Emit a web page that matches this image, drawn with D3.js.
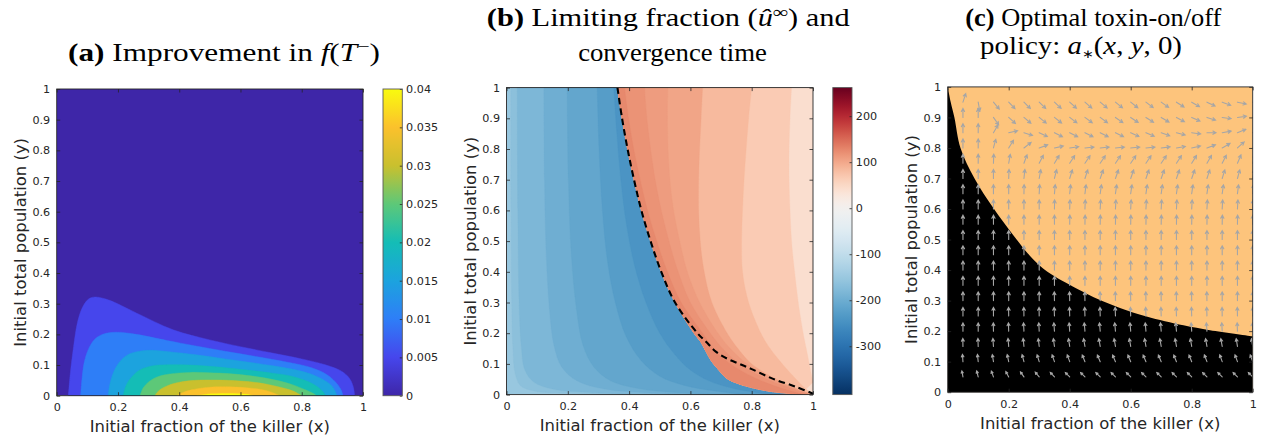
<!DOCTYPE html>
<html>
<head>
<meta charset="utf-8">
<script src="https://cdnjs.cloudflare.com/ajax/libs/d3/7.8.5/d3.min.js"></script>
<style>
  html, body { margin: 0; padding: 0; background: #ffffff; }
  svg { display: block; }
</style>
</head>
<body>
<svg id="fig" width="1267" height="437" xmlns="http://www.w3.org/2000/svg"></svg>
<script>
// ---------- shared axis data ----------
const xTickValues = [0, 0.2, 0.4, 0.6, 0.8, 1];
const xTickLabels = ["0", "0.2", "0.4", "0.6", "0.8", "1"];
const yTickValues = [0, 0.1, 0.2, 0.3, 0.4, 0.5, 0.6, 0.7, 0.8, 0.9, 1];
const yTickLabels = ["0", "0.1", "0.2", "0.3", "0.4", "0.5", "0.6", "0.7", "0.8", "0.9", "1"];
const xAxisTitle = "Initial fraction of the killer (x)";
const yAxisTitle = "Initial total population (y)";

// ---------- (a) improvement in f(T-) : filled contour outlines [x, y] ----------
const improvementLevels = [0.005, 0.01, 0.015, 0.02, 0.025, 0.03, 0.035, 0.04];
const improvementContours = [
  [[0.038,0],[0.045,0.08],[0.055,0.16],[0.068,0.24],[0.085,0.29],[0.105,0.316],[0.125,0.322],[0.17,0.312],[0.26,0.27],[0.38,0.215],[0.5,0.182],[0.6,0.16],[0.7,0.14],[0.8,0.12],[0.88,0.1],[0.93,0.08],[0.955,0.058],[0.968,0.03],[0.973,0]],
  [[0.078,0],[0.083,0.06],[0.09,0.11],[0.105,0.155],[0.125,0.185],[0.155,0.202],[0.2,0.207],[0.26,0.2],[0.36,0.18],[0.45,0.163],[0.55,0.145],[0.65,0.128],[0.75,0.11],[0.83,0.092],[0.88,0.07],[0.91,0.045],[0.928,0.02],[0.935,0]],
  [[0.168,0],[0.174,0.04],[0.187,0.08],[0.207,0.112],[0.235,0.135],[0.27,0.145],[0.31,0.148],[0.38,0.142],[0.45,0.134],[0.55,0.12],[0.65,0.106],[0.75,0.09],[0.82,0.074],[0.865,0.055],[0.9,0.03],[0.915,0]],
  [[0.217,0],[0.225,0.03],[0.24,0.055],[0.27,0.083],[0.31,0.097],[0.36,0.101],[0.435,0.1],[0.52,0.094],[0.6,0.086],[0.7,0.074],[0.76,0.065],[0.81,0.05],[0.85,0.03],[0.872,0.01],[0.878,0]],
  [[0.272,0],[0.282,0.025],[0.3,0.045],[0.33,0.062],[0.37,0.071],[0.435,0.076],[0.5,0.075],[0.56,0.072],[0.64,0.064],[0.71,0.052],[0.77,0.036],[0.81,0.02],[0.84,0.006],[0.848,0]],
  [[0.32,0],[0.335,0.018],[0.36,0.032],[0.4,0.044],[0.45,0.05],[0.52,0.051],[0.6,0.048],[0.66,0.042],[0.72,0.03],[0.77,0.016],[0.8,0]],
  [[0.391,0],[0.41,0.01],[0.44,0.019],[0.49,0.027],[0.55,0.029],[0.62,0.026],[0.68,0.018],[0.71,0.008],[0.728,0]],
  [[0.457,0],[0.49,0.005],[0.55,0.007],[0.6,0.006],[0.63,0.003],[0.64,0]]
];
const improvementBarTicks = [0, 0.005, 0.01, 0.015, 0.02, 0.025, 0.03, 0.035, 0.04];
const improvementBarLabels = ["0", "0.005", "0.01", "0.015", "0.02", "0.025", "0.03", "0.035", "0.04"];
// parula-like colour stops, one per colorbar tick
const parulaStops = ["#3E26A8", "#4646EC", "#2E7EF7", "#1CA3DE", "#14BDB6", "#5DC878", "#C9C02E", "#FBC12C", "#F9FB0E"];

// ---------- (b) limiting fraction and convergence time ----------
const limitRange = [-405, 262];
const limitBarTicks = [-300, -200, -100, 0, 100, 200];
const limitBarLabels = ["-300", "-200", "-100", "0", "100", "200"];
// dashed switching curve
const switchCurve = [[0.362,1],[0.377,0.9],[0.395,0.8],[0.416,0.7],[0.44,0.6],[0.47,0.5],[0.505,0.4],[0.55,0.3],[0.623,0.2],[0.651,0.172],[0.683,0.14],[0.72,0.117],[0.76,0.1],[0.8,0.083],[0.868,0.052],[0.945,0.025],[1.0,0.003]];
// border between negative (blue) and positive (red) values
const signBoundary = [[0.362,1],[0.377,0.9],[0.395,0.8],[0.416,0.7],[0.44,0.6],[0.47,0.5],[0.505,0.4],[0.55,0.3],[0.612,0.2],[0.635,0.17],[0.651,0.14],[0.668,0.11],[0.689,0.084],[0.72,0.052],[0.75,0.038],[0.78,0.028],[0.82,0.018],[0.87,0.009],[0.93,0.003],[0.96,0]];
// negative side: band values (outermost first) and the edges between them
const negativeLevels = [-152, -166, -182, -198, -212, -228, -242];
const negativeEdges = [
  [[0.014,1],[0.015,0.6],[0.017,0.3],[0.021,0.15],[0.028,0.07],[0.045,0.03],[0.09,0.012],[0.2,0.004],[0.3,0]],
  [[0.035,1],[0.037,0.6],[0.041,0.3],[0.048,0.16],[0.06,0.08],[0.09,0.04],[0.15,0.018],[0.28,0.006],[0.42,0]],
  [[0.122,1],[0.124,0.7],[0.13,0.45],[0.14,0.28],[0.155,0.16],[0.18,0.09],[0.23,0.045],[0.32,0.018],[0.45,0.006],[0.56,0]],
  [[0.198,1],[0.202,0.7],[0.212,0.45],[0.228,0.28],[0.25,0.16],[0.285,0.09],[0.34,0.045],[0.43,0.02],[0.55,0.007],[0.67,0]],
  [[0.296,1],[0.302,0.8],[0.313,0.6],[0.33,0.43],[0.355,0.3],[0.39,0.19],[0.44,0.11],[0.5,0.06],[0.58,0.03],[0.68,0.012],[0.78,0]],
  [[0.35,1],[0.36,0.85],[0.373,0.7],[0.392,0.55],[0.418,0.42],[0.455,0.3],[0.5,0.2],[0.55,0.13],[0.6,0.08],[0.66,0.045],[0.74,0.02],[0.86,0]]
];
// positive side: band values (next to the border first) and edges
const positiveLevels = [126, 118, 110, 103, 84, 66, 42];
const positiveEdges = [
  [[0.385,1],[0.398,0.9],[0.415,0.8],[0.436,0.7],[0.46,0.6],[0.49,0.5],[0.525,0.4],[0.57,0.3],[0.64,0.2],[0.675,0.15],[0.73,0.1],[0.82,0.05],[0.9,0.02],[0.975,0]],
  [[0.45,1],[0.458,0.9],[0.47,0.8],[0.485,0.7],[0.505,0.6],[0.53,0.5],[0.56,0.4],[0.6,0.3],[0.665,0.2],[0.705,0.15],[0.76,0.1],[0.85,0.05],[0.93,0.02],[0.99,0]],
  [[0.526,1],[0.525,0.9],[0.527,0.8],[0.533,0.7],[0.545,0.6],[0.565,0.5],[0.59,0.4],[0.63,0.3],[0.69,0.2],[0.73,0.15],[0.785,0.1],[0.87,0.05],[0.94,0.02],[1,0]],
  [[0.64,1],[0.635,0.9],[0.63,0.8],[0.627,0.7],[0.627,0.6],[0.632,0.5],[0.645,0.4],[0.67,0.3],[0.72,0.2],[0.755,0.15],[0.8,0.1],[0.88,0.05],[0.945,0.02],[1,0]],
  [[0.8,1],[0.79,0.9],[0.782,0.8],[0.775,0.7],[0.77,0.6],[0.767,0.5],[0.77,0.4],[0.79,0.3],[0.83,0.2],[0.86,0.15],[0.9,0.1],[0.945,0.05],[0.975,0.02],[1,0]],
  [[0.93,1],[0.925,0.9],[0.922,0.8],[0.922,0.7],[0.925,0.6],[0.93,0.5],[0.94,0.4],[0.952,0.3],[0.968,0.2],[0.978,0.15],[0.988,0.1],[1,0.04]]
];

// ---------- (c) optimal toxin on/off policy ----------
// switching boundary: toxin off to the lower left of it
const policyBoundary = [[0,1],[0.01,0.95],[0.022,0.9],[0.042,0.8],[0.088,0.7],[0.152,0.6],[0.226,0.5],[0.262,0.455],[0.305,0.412],[0.35,0.38],[0.4,0.352],[0.49,0.306],[0.565,0.276],[0.652,0.248],[0.773,0.219],[0.86,0.203],[1,0.183]];
const arrowX = [0.05,0.1,0.15,0.2,0.25,0.3,0.35,0.4,0.45,0.5,0.55,0.6,0.65,0.7,0.75,0.8,0.85,0.9,0.95,1.0];
const arrowY = [0.05,0.1,0.15,0.2,0.25,0.3,0.35,0.4,0.45,0.5,0.55,0.6,0.65,0.7,0.75,0.8,0.85,0.9,0.95];
// arrow direction in degrees (0 = +x, 90 = +y), one row per arrowY value
const arrowAngles = [
  [100,104,110,118,125,130,133,135,135,135,135,135,135,135,135,135,135,135,135,135],
  [94,96,99,102,105,107,109,110,112,113,113,113,113,113,112,112,111,110,110,110],
  [91,92,94,95,96,97,98,99,100,100,100,100,100,100,100,100,100,100,99,99],
  [90,90,91,92,93,93,94,94,95,95,95,95,95,95,95,94,94,93,92,92],
  [90,90,90,91,91,91,92,92,92,92,92,92,92,92,92,92,92,91,91,90],
  [90,90,90,90,90,90,91,91,91,91,91,91,91,91,91,91,91,90,90,90],
  [90,90,90,90,90,90,90,90,90,90,90,90,90,90,90,90,90,90,90,90],
  [90,90,90,90,90,90,90,90,90,90,90,90,90,90,90,90,90,90,90,90],
  [90,90,90,90,90,90,90,90,90,90,90,90,90,90,90,90,90,90,90,90],
  [90,90,90,90,90,90,90,90,90,90,90,90,90,90,90,90,90,90,90,90],
  [90,90,90,90,90,90,90,89,89,89,89,89,89,89,89,89,89,89,89,89],
  [90,90,90,90,90,90,89,88,88,87,87,87,87,87,87,87,87,87,87,88],
  [90,90,90,90,89,87,85,84,83,82,82,82,82,82,82,82,82,82,83,84],
  [90,90,90,88,84,80,76,73,72,71,71,71,71,71,71,71,72,73,75,78],
  [90,90,88,80,70,63,59,57,56,56,56,56,56,56,57,58,60,63,67,72],
  [90,90,75,58,38,20,12,8,6,6,6,6,6,7,9,13,20,30,42,55],
  [90,90,60,12,-18,-25,-27,-27,-27,-27,-26,-25,-23,-20,-15,-8,0,10,22,38],
  [90,90,-55,-42,-40,-39,-38,-37,-36,-36,-35,-34,-33,-31,-28,-24,-18,-8,8,28],
  [72,-80,-50,-46,-45,-44,-43,-42,-41,-40,-39,-38,-37,-35,-33,-30,-26,-20,-12,-20]
];
// relative arrow length per row
const arrowRowMagnitude = [0.68,0.8,0.88,0.92,0.95,0.97,1,1,1,1,1,1,1,1,1,1,1,1,1];

// ---------- layout ----------
const svg = d3.select("#fig");
const AXIS_COLOR = "#262626";
const TICK_FONT = "DejaVu Sans, Verdana, sans-serif";
const TITLE_FONT = "Liberation Serif, Times New Roman, serif";

const layout = {
  a: { left: 56.7, top: 89.0, w: 306.3, h: 306.7 },
  b: { left: 506.5, top: 87.6, w: 306.5, h: 307.0 },
  c: { left: 947.7, top: 86.9, w: 305.0, h: 305.3 }
};
const barA = { left: 383.0, w: 19.3 };
const barB = { left: 832.8, w: 19.2 };

const defs = svg.append("defs");

function makePanel(key) {
  const L = layout[key];
  const g = svg.append("g").attr("transform", `translate(${L.left},${L.top})`);
  const xs = d3.scaleLinear().domain([0, 1]).range([0, L.w]);
  const ys = d3.scaleLinear().domain([0, 1]).range([L.h, 0]);
  defs.append("clipPath").attr("id", "clip-" + key)
    .append("rect").attr("x", 0).attr("y", 0).attr("width", L.w).attr("height", L.h);
  const plot = g.append("g").attr("clip-path", `url(#clip-${key})`);
  return { g, plot, xs, ys, L };
}

function styleAxis(sel, fontSize) {
  sel.attr("font-family", TICK_FONT).attr("font-size", fontSize);
  sel.select(".domain").remove();
  sel.selectAll(".tick line").attr("stroke", AXIS_COLOR).attr("stroke-width", 0.8);
  sel.selectAll(".tick text").attr("fill", AXIS_COLOR);
}

function fitWidth(sel, target) {
  const w = sel.node().getBBox().width;
  const fs = parseFloat(sel.attr("font-size"));
  if (w > 0) sel.attr("font-size", fs * target / w);
}

function drawFrame(P) {
  const { g, xs, ys, L } = P;
  const tk = 3.5;
  g.append("g").attr("transform", `translate(0,${L.h})`)
    .call(d3.axisBottom(xs).tickValues(xTickValues).tickFormat((d, i) => xTickLabels[i])
      .tickSizeInner(-tk).tickSizeOuter(0).tickPadding(7.5))
    .call(s => styleAxis(s, 11.2));
  g.append("g")
    .call(d3.axisTop(xs).tickValues(xTickValues).tickFormat("").tickSizeInner(-tk).tickSizeOuter(0))
    .call(s => styleAxis(s, 11.2));
  g.append("g")
    .call(d3.axisLeft(ys).tickValues(yTickValues).tickFormat((d, i) => yTickLabels[i])
      .tickSizeInner(-tk).tickSizeOuter(0).tickPadding(6.5))
    .call(s => styleAxis(s, 11.2));
  g.append("g").attr("transform", `translate(${L.w},0)`)
    .call(d3.axisRight(ys).tickValues(yTickValues).tickFormat("").tickSizeInner(-tk).tickSizeOuter(0))
    .call(s => styleAxis(s, 11.2));
  g.append("rect").attr("x", 0).attr("y", 0).attr("width", L.w).attr("height", L.h)
    .attr("fill", "none").attr("stroke", AXIS_COLOR).attr("stroke-width", 0.9);

  // axis titles
  const xt = g.append("text").attr("x", L.w / 2).attr("y", L.h + 36.7)
    .attr("text-anchor", "middle").attr("font-family", TICK_FONT).attr("font-size", 16)
    .attr("fill", AXIS_COLOR).text(xAxisTitle);
  const yt = g.append("text").attr("transform", `translate(-30.8,${L.h / 2}) rotate(-90)`)
    .attr("text-anchor", "middle").attr("font-family", TICK_FONT).attr("font-size", 16)
    .attr("fill", AXIS_COLOR).text(yAxisTitle);
  fitWidth(xt, 240.5);
  yt.attr("font-size", xt.attr("font-size"));
}

function drawColorbar(P, bar, scale, domain, ticks, labels, gradId) {
  const { L } = P;
  const x0 = bar.left - L.left;
  const g = P.g.append("g").attr("transform", `translate(${x0},0)`);
  const grad = defs.append("linearGradient").attr("id", gradId)
    .attr("x1", 0).attr("y1", 1).attr("x2", 0).attr("y2", 0);
  const n = 64;
  for (let i = 0; i <= n; i++) {
    const v = domain[0] + (domain[1] - domain[0]) * i / n;
    grad.append("stop").attr("offset", i / n).attr("stop-color", scale(v));
  }
  g.append("rect").attr("x", 0).attr("y", 0).attr("width", bar.w).attr("height", L.h)
    .attr("fill", `url(#${gradId})`);
  const cs = d3.scaleLinear().domain(domain).range([L.h, 0]);
  g.append("g").attr("transform", `translate(${bar.w},0)`)
    .call(d3.axisRight(cs).tickValues(ticks).tickFormat((d, i) => labels[i])
      .tickSizeInner(-2.5).tickSizeOuter(0).tickPadding(3.8))
    .call(s => styleAxis(s, 11.2));
  g.append("rect").attr("x", 0).attr("y", 0).attr("width", bar.w).attr("height", L.h)
    .attr("fill", "none").attr("stroke", "#5a5a5a").attr("stroke-width", 0.9);
}

const lineGen = (xs, ys) => d3.line().x(d => xs(d[0])).y(d => ys(d[1]))
  .curve(d3.curveCatmullRom.alpha(0.5));

// ================= panel (a) =================
const A = makePanel("a");
const parula = d3.scaleLinear().domain(improvementBarTicks).range(parulaStops).clamp(true);
{
  const lg = lineGen(A.xs, A.ys);
  A.plot.append("rect").attr("width", A.L.w).attr("height", A.L.h).attr("fill", parula(0));
  A.plot.selectAll("path.level").data(improvementContours).join("path")
    .attr("class", "level")
    .attr("d", d => lg(d) + "Z")
    .attr("fill", (d, i) => parula(improvementLevels[i]))
    .attr("stroke", (d, i) => parula(improvementLevels[i]))
    .attr("stroke-width", 0.4);
}
drawFrame(A);
drawColorbar(A, barA, parula, [0, 0.04], improvementBarTicks, improvementBarLabels, "grad-a");

// ================= panel (b) =================
const B = makePanel("b");
const diverging = d3.scaleDiverging().domain([limitRange[0], 0, limitRange[1]])
  .interpolator(t => d3.interpolateRdBu(1 - t));
{
  const lg = lineGen(B.xs, B.ys);
  const { xs, ys } = B;
  const pt = (x, y) => `${xs(x)},${ys(y)}`;
  const boundaryPath = lg(signBoundary);
  const boundaryUp = lg(signBoundary.slice().reverse());

  // negative side, outermost band first
  B.plot.append("path")
    .attr("d", `M${pt(0, 1)}L${boundaryPath.slice(1)}L${pt(0, 0)}Z`)
    .attr("fill", diverging(negativeLevels[0]));
  negativeEdges.forEach((edge, i) => {
    B.plot.append("path")
      .attr("d", lg(edge) + "L" + boundaryUp.slice(1) + "Z")
      .attr("fill", diverging(negativeLevels[i + 1]))
      .attr("stroke", diverging(negativeLevels[i + 1])).attr("stroke-width", 0.3);
  });

  // positive side, farthest band first
  B.plot.append("path")
    .attr("d", `${boundaryPath}L${pt(1, 0)}L${pt(1, 1)}Z`)
    .attr("fill", diverging(positiveLevels[positiveLevels.length - 1]));
  for (let i = positiveEdges.length - 1; i >= 0; i--) {
    const back = lg(positiveEdges[i].slice().reverse());
    B.plot.append("path")
      .attr("d", boundaryPath + "L" + back.slice(1) + "Z")
      .attr("fill", diverging(positiveLevels[i]))
      .attr("stroke", diverging(positiveLevels[i])).attr("stroke-width", 0.3);
  }

  // dashed switching curve
  B.plot.append("path").attr("d", lg(switchCurve))
    .attr("fill", "none").attr("stroke", "#000").attr("stroke-width", 2.1)
    .attr("stroke-dasharray", "6.5,4");
}
drawFrame(B);
drawColorbar(B, barB, diverging, limitRange, limitBarTicks, limitBarLabels, "grad-b");

// ================= panel (c) =================
const C = makePanel("c");
{
  const { xs, ys } = C;
  const lg = lineGen(xs, ys);
  C.plot.append("rect").attr("width", C.L.w).attr("height", C.L.h).attr("fill", "#FDC47C");
  const b = lg(policyBoundary);
  C.plot.append("path")
    .attr("d", `M${xs(0)},${ys(0)}L${b.slice(1)}L${xs(1)},${ys(0)}Z`)
    .attr("fill", "#000");

  const lenScale = d3.scaleLinear().domain([0, 1]).range([0, 9]);
  const arrows = [];
  arrowY.forEach((yv, j) => {
    arrowX.forEach((xv, i) => {
      arrows.push({ x: xv, y: yv, a: arrowAngles[j][i], m: arrowRowMagnitude[j] });
    });
  });
  const ag = C.plot.append("g").attr("stroke", "#A6A6A6").attr("stroke-width", 1.1)
    .attr("fill", "none").attr("stroke-linecap", "round");
  ag.selectAll("path").data(arrows).join("path").attr("d", d => {
    const L = lenScale(d.m);
    const th = d.a * Math.PI / 180;
    const x0 = xs(d.x), y0 = ys(d.y);
    const x1 = x0 + L * Math.cos(th), y1 = y0 - L * Math.sin(th);
    const hl = 0.38 * L, ha = 28 * Math.PI / 180;
    const back = th + Math.PI;
    const hx1 = x1 + hl * Math.cos(back + ha), hy1 = y1 - hl * Math.sin(back + ha);
    const hx2 = x1 + hl * Math.cos(back - ha), hy2 = y1 - hl * Math.sin(back - ha);
    return `M${x0},${y0}L${x1},${y1}M${hx1},${hy1}L${x1},${y1}L${hx2},${hy2}`;
  });
}
drawFrame(C);

// ================= titles =================
// set at a fixed size, then stretched horizontally to the line width
function title(cx, baseline, target, build) {
  const t = svg.append("text").attr("x", cx).attr("y", baseline)
    .attr("text-anchor", "middle").attr("font-family", TITLE_FONT)
    .attr("font-size", 24.5).attr("fill", "#000");
  build(t);
  const w = t.node().getBBox().width;
  const sx = target / w;
  t.attr("transform", `translate(${cx},0) scale(${sx},1) translate(${-cx},0)`);
  return t;
}
title(224, 61, 312, t => {
  t.append("tspan").attr("font-weight", "bold").text("(a)");
  t.append("tspan").text(" Improvement in ");
  t.append("tspan").attr("font-style", "italic").text("f");
  t.append("tspan").text("(");
  t.append("tspan").attr("font-style", "italic").text("T");
  t.append("tspan").attr("font-size", "70%").attr("dy", "-0.5em").text("\u2212");
  t.append("tspan").attr("dy", "0.35em").text(")");
});
title(668.3, 26.5, 363, t => {
  t.append("tspan").attr("font-weight", "bold").text("(b)");
  t.append("tspan").text(" Limiting fraction (");
  t.append("tspan").attr("font-style", "italic").text("\u00fb");
  t.append("tspan").attr("font-size", "70%").attr("dy", "-0.5em").text("\u221e");
  t.append("tspan").attr("dy", "0.35em").text(") and");
});
title(672.5, 61.5, 189, t => { t.text("convergence time"); });
title(1093.3, 26, 257, t => {
  t.append("tspan").attr("font-weight", "bold").text("(c)");
  t.append("tspan").text(" Optimal toxin-on/off");
});
title(1081, 54.5, 202, t => {
  t.append("tspan").text("policy: ");
  t.append("tspan").attr("font-style", "italic").text("a");
  t.append("tspan").attr("font-size", "48%").attr("dy", "0.3em").text("\u2217");
  t.append("tspan").attr("dy", "-0.144em").text("(");
  t.append("tspan").attr("font-style", "italic").text("x");
  t.append("tspan").text(", ");
  t.append("tspan").attr("font-style", "italic").text("y");
  t.append("tspan").text(", 0)");
});
</script>
</body>
</html>
